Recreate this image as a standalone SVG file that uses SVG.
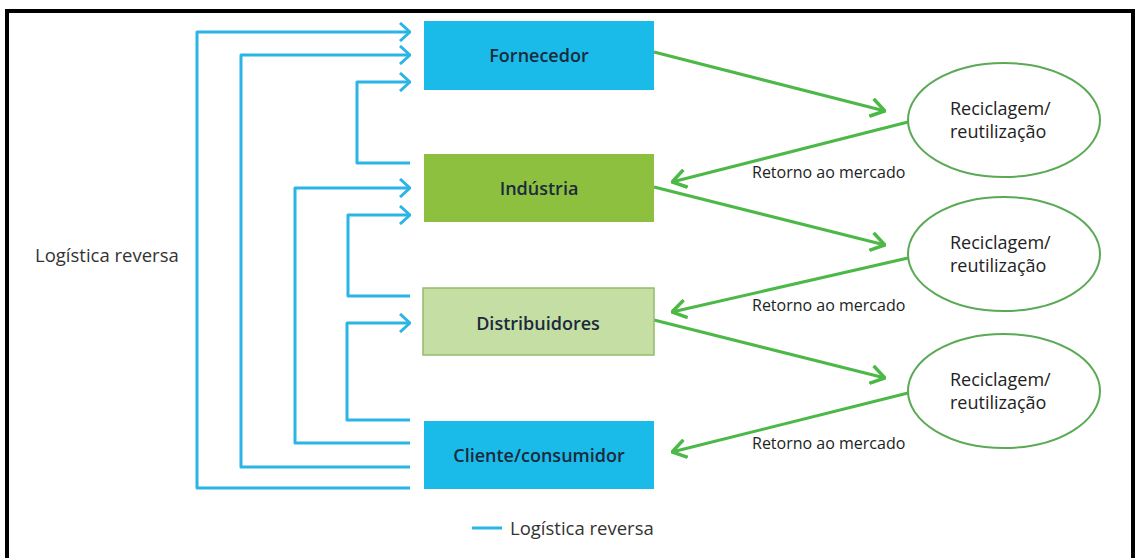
<svg xmlns="http://www.w3.org/2000/svg" width="1137" height="558" viewBox="0 0 1137 558">
<defs>
<style>
.box text{font-family:"Open Sans","Noto Sans",sans-serif;font-size:18px;font-weight:600;fill:#1b2a3c;text-anchor:middle}
.lbl{font-family:"Open Sans","Noto Sans",sans-serif;font-size:16px;fill:#222}
.big{font-size:18.5px;fill:#333}
.ell{fill:#fff;stroke:#5aaa55;stroke-width:2}
.ell-t{font-family:"Open Sans","Noto Sans",sans-serif;font-size:18px;fill:#222}
.blue{fill:none;stroke:#2bb4e6;stroke-width:3;stroke-linejoin:round}
.green{fill:none;stroke:#4cb847;stroke-width:3}
</style>
<marker id="ab" viewBox="0 0 12 20" refX="11" refY="10" markerWidth="12" markerHeight="20" markerUnits="userSpaceOnUse" orient="auto">
<path d="M1,1 L11,10 L1,19" fill="none" stroke="#2bb4e6" stroke-width="3"/>
</marker>
<marker id="ag" viewBox="0 0 16 20" refX="15" refY="10" markerWidth="16" markerHeight="20" markerUnits="userSpaceOnUse" orient="auto">
<path d="M1,1 L15,10 L1,19" fill="none" stroke="#4cb847" stroke-width="3.5"/>
</marker>
</defs>
<rect width="1137" height="558" fill="#fff"/>
<rect x="7" y="11" width="1126" height="560" fill="none" stroke="#000" stroke-width="4"/>

<g id="connectors">
<path class="blue" d="M410,488 H197 V32 H410" marker-end="url(#ab)"/>
<path class="blue" d="M410,467 H241 V55 H410" marker-end="url(#ab)"/>
<path class="blue" d="M410,163 H357 V82 H410" marker-end="url(#ab)"/>
<path class="blue" d="M410,443 H295 V188 H410" marker-end="url(#ab)"/>
<path class="blue" d="M410,296 H348 V215 H410" marker-end="url(#ab)"/>
<path class="blue" d="M410,420 H347 V323 H410" marker-end="url(#ab)"/>
<path class="green" d="M654,52 L885,111" marker-end="url(#ag)"/>
<path class="green" d="M908,122 L672,182" marker-end="url(#ag)"/>
<path class="green" d="M654,187 L885,245" marker-end="url(#ag)"/>
<path class="green" d="M908,258 L672,312" marker-end="url(#ag)"/>
<path class="green" d="M654,320 L885,378" marker-end="url(#ag)"/>
<path class="green" d="M908,393 L672,452" marker-end="url(#ag)"/>
</g>

<g id="fornecedor" class="box"><rect x="424" y="21" width="230" height="69" fill="#1abbe9"/><text x="539" y="62">Fornecedor</text></g>
<g id="industria" class="box"><rect x="424" y="154" width="230" height="68" fill="#8dc03f"/><text x="539" y="195">Indústria</text></g>
<g id="distribuidores" class="box"><rect x="423" y="288" width="231" height="67" fill="#c5dea4" stroke="#94bb6c" stroke-width="1.5"/><text x="538" y="330">Distribuidores</text></g>
<g id="cliente" class="box"><rect x="424" y="421" width="230" height="68" fill="#1abbe9"/><text x="539" y="462">Cliente/consumidor</text></g>

<g id="reciclagem1"><ellipse class="ell" cx="1004" cy="120" rx="96" ry="57"/><text class="ell-t" x="950" y="115">Reciclagem/</text><text class="ell-t" x="950" y="138">reutilização</text></g>
<g id="reciclagem2"><ellipse class="ell" cx="1004" cy="254" rx="96" ry="57"/><text class="ell-t" x="950" y="249">Reciclagem/</text><text class="ell-t" x="950" y="272">reutilização</text></g>
<g id="reciclagem3"><ellipse class="ell" cx="1004" cy="391" rx="96" ry="57"/><text class="ell-t" x="950" y="386">Reciclagem/</text><text class="ell-t" x="950" y="409">reutilização</text></g>

<g id="labels">
<text class="lbl" x="752" y="178">Retorno ao mercado</text>
<text class="lbl" x="752" y="311">Retorno ao mercado</text>
<text class="lbl" x="752" y="449">Retorno ao mercado</text>
<text class="lbl big" x="35" y="262">Logística reversa</text>
</g>

<g id="legend">
<line x1="472" y1="528" x2="502" y2="528" stroke="#2bb4e6" stroke-width="3"/>
<text class="lbl big" x="510" y="535">Logística reversa</text>
</g>
</svg>
